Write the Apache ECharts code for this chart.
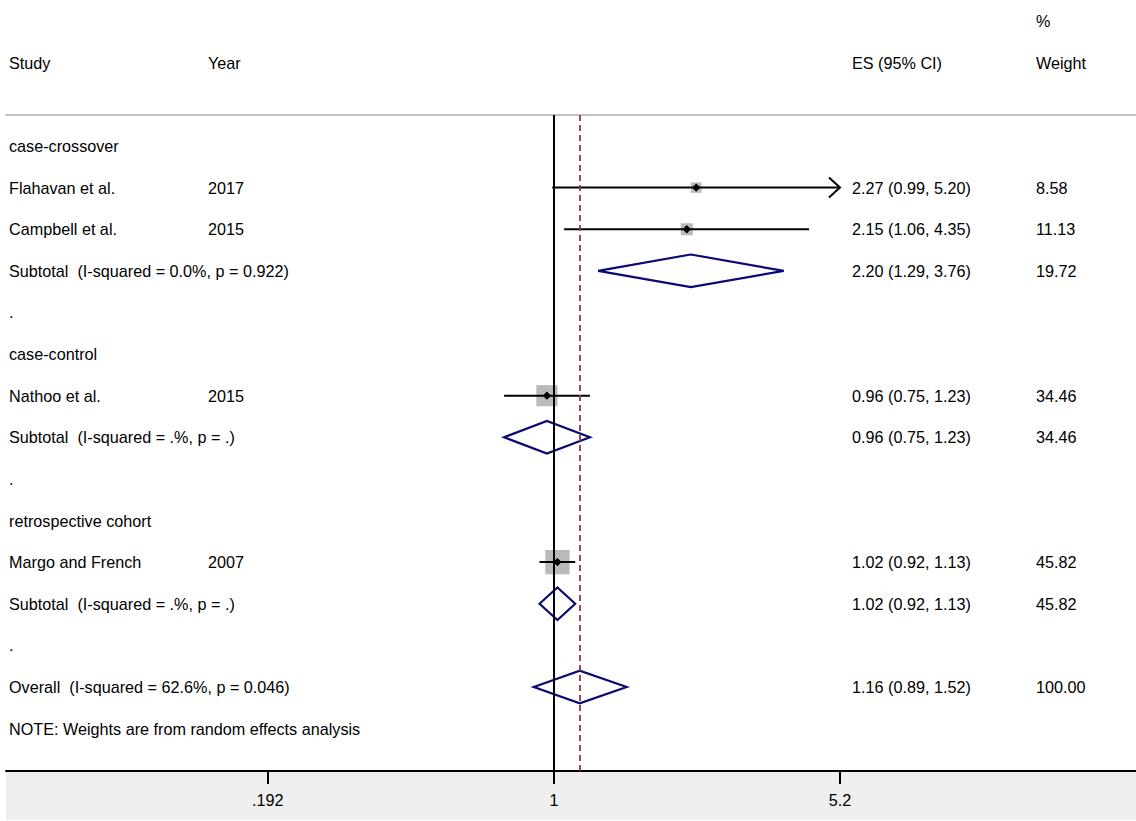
<!DOCTYPE html>
<html>
<head>
<meta charset="utf-8">
<script src="https://cdn.jsdelivr.net/npm/echarts@6/dist/echarts.min.js"></script>
<style>
html, body { margin: 0; padding: 0; background: #ffffff; }
#chart { width: 1136px; height: 821px; }
</style>
</head>
<body>
<div id="chart"></div>
<script>
// ---------------- data ----------------
const headerTop = ['', '', '', '%'];
const headerCols = ['Study', 'Year', 'ES (95% CI)', 'Weight'];
const rowLabels = [
  'case-crossover',
  'Flahavan et al.',
  'Campbell et al.',
  'Subtotal  (I-squared = 0.0%, p = 0.922)',
  '.',
  'case-control',
  'Nathoo et al.',
  'Subtotal  (I-squared = .%, p = .)',
  '.',
  'retrospective cohort',
  'Margo and French',
  'Subtotal  (I-squared = .%, p = .)',
  '.',
  'Overall  (I-squared = 62.6%, p = 0.046)',
  'NOTE: Weights are from random effects analysis'
];
const rowYears = ['', '2017', '2015', '', '', '', '2015', '', '', '', '2007', '', '', '', ''];

const studyRows = [1, 2, 6, 10];
const studyES = [2.27, 2.15, 0.96, 1.02];
const studyLo = [0.99, 1.06, 0.75, 0.92];
const studyHi = [5.20, 4.35, 1.23, 1.13];
const studyWeight = [8.58, 11.13, 34.46, 45.82];

const pooledRows = [3, 7, 11, 13];
const pooledES = [2.20, 0.96, 1.02, 1.16];
const pooledLo = [1.29, 0.75, 0.92, 0.89];
const pooledHi = [3.76, 1.23, 1.13, 1.52];
const pooledWeight = [19.72, 34.46, 45.82, 100.00];

const nullValue = 1;
const overallES = 1.16;
const tickValues = [0.192, 1, 5.2];
const tickLabels = ['.192', '1', '5.2'];

// ---------------- layout / style ----------------
const X_MIN = 0.04246, X_MAX = 28.65;
const Y_MIN = -0.745, Y_MAX = 15.02;
const COL_X = [9, 208, 852, 1036];
const FONT_FAMILY = '"Liberation Sans", Arial, Helvetica, sans-serif';
const FONT = '16.2px ' + FONT_FAMILY;
const NAVY = '#0a0a70';
const MAROON = '#993344';
const SQUARE_SCALE = 3.6;
const DIAMOND_HALF = 16.3;

// ---------------- build rows ----------------
const esCol = rowLabels.map(() => '');
const wCol = rowLabels.map(() => '');
const fmt = (es, lo, hi) => es.toFixed(2) + ' (' + lo.toFixed(2) + ', ' + hi.toFixed(2) + ')';
studyRows.forEach((r, i) => { esCol[r] = fmt(studyES[i], studyLo[i], studyHi[i]); wCol[r] = studyWeight[i].toFixed(2); });
pooledRows.forEach((r, i) => { esCol[r] = fmt(pooledES[i], pooledLo[i], pooledHi[i]); wCol[r] = pooledWeight[i].toFixed(2); });

const tableRows = [{ row: -3, cols: headerTop }, { row: -2, cols: headerCols }];
rowLabels.forEach((lab, i) => tableRows.push({ row: i, cols: [lab, rowYears[i], esCol[i], wCol[i]] }));

const studyData = studyRows.map((r, i) => [studyES[i], r, studyLo[i], studyHi[i], studyWeight[i]]);
const pooledData = pooledRows.map((r, i) => [pooledES[i], r, pooledLo[i], pooledHi[i], pooledWeight[i]]);
const tableData = tableRows.map(t => [nullValue, t.row]);

function renderTable(params, api) {
  const r = tableRows[params.dataIndex];
  const y = api.coord([nullValue, r.row])[1];
  return {
    type: 'group',
    children: r.cols.map((t, k) => ({
      type: 'text',
      x: COL_X[k],
      y: y,
      style: { text: t, fill: '#000000', font: FONT, align: 'left', verticalAlign: 'middle' }
    }))
  };
}

function renderStudy(params, api) {
  const es = api.value(0), row = api.value(1), lo = api.value(2), hi = api.value(3), w = api.value(4);
  const c = api.coord([es, row]);
  const l = api.coord([lo, row]);
  const h = api.coord([hi, row]);
  const s = SQUARE_SCALE * Math.sqrt(w);
  const y = c[1];
  const children = [
    { type: 'rect', shape: { x: c[0] - s / 2, y: y - s / 2, width: s, height: s }, style: { fill: '#bababa' } },
    { type: 'line', shape: { x1: l[0], y1: y, x2: h[0], y2: y }, style: { stroke: '#000000', lineWidth: 2 } },
    { type: 'polygon', shape: { points: [[c[0] - 4.2, y], [c[0], y - 4.2], [c[0] + 4.2, y], [c[0], y + 4.2]] }, style: { fill: '#000000' } }
  ];
  if (hi >= tickValues[tickValues.length - 1]) {
    children.push({ type: 'polyline', shape: { points: [[h[0] - 11, y - 10], [h[0], y], [h[0] - 11, y + 10]] },
      style: { stroke: '#000000', lineWidth: 2, fill: null } });
  }
  return { type: 'group', children: children };
}

function renderPooled(params, api) {
  const es = api.value(0), row = api.value(1), lo = api.value(2), hi = api.value(3);
  const c = api.coord([es, row]);
  const l = api.coord([lo, row]);
  const h = api.coord([hi, row]);
  const y = c[1];
  return {
    type: 'polygon',
    shape: { points: [[l[0], y], [c[0], y - DIAMOND_HALF], [h[0], y], [c[0], y + DIAMOND_HALF]] },
    style: { fill: null, stroke: NAVY, lineWidth: 2.2, lineJoin: 'miter' }
  };
}

function tickLabel(v) {
  let best = 0;
  tickValues.forEach((t, i) => { if (Math.abs(Math.log(t) - Math.log(v)) < Math.abs(Math.log(tickValues[best]) - Math.log(v))) best = i; });
  return tickLabels[best];
}

const chart = echarts.init(document.getElementById('chart'), null, { renderer: 'svg' });
chart.setOption({
  animation: false,
  backgroundColor: '#ffffff',
  textStyle: { fontFamily: FONT_FAMILY },
  graphic: {
    elements: [
      { type: 'rect', left: 6, top: 771, z: -100, shape: { width: 1130, height: 49 }, style: { fill: '#efefef' } }
    ]
  },
  grid: { left: 6, right: 0, top: 115, bottom: 50, containLabel: false, outerBoundsMode: 'none' },
  xAxis: [
    {
      type: 'log', logBase: 5.2, min: X_MIN, max: X_MAX, position: 'bottom',
      axisLine: { show: true, onZero: false, lineStyle: { color: '#000000', width: 2 } },
      axisTick: { show: true, inside: false, length: 13, customValues: tickValues, lineStyle: { color: '#000000', width: 2 } },
      axisLabel: { show: true, customValues: tickValues, margin: 21, color: '#000000', fontSize: 16.2,
        fontFamily: FONT_FAMILY, formatter: tickLabel },
      splitLine: { show: false }, minorTick: { show: false }
    },
    {
      type: 'log', logBase: 5.2, min: X_MIN, max: X_MAX, position: 'top',
      axisLine: { show: true, onZero: false, lineStyle: { color: '#c4c4c4', width: 2 } },
      axisTick: { show: false }, axisLabel: { show: false }, splitLine: { show: false }
    }
  ],
  yAxis: {
    type: 'value', inverse: true, min: Y_MIN, max: Y_MAX, show: false,
    splitLine: { show: false }
  },
  series: [
    {
      type: 'line', data: [], z: 1, silent: true,
      markLine: {
        silent: true, symbol: ['none', 'none'], label: { show: false },
        data: [
          { xAxis: nullValue, lineStyle: { color: '#000000', width: 2, type: 'solid' } },
          { xAxis: overallES, lineStyle: { color: MAROON, width: 1.8, type: [6, 4] } }
        ]
      }
    },
    { type: 'custom', z: 3, clip: false, renderItem: renderStudy, data: studyData, silent: true },
    { type: 'custom', z: 3, clip: false, renderItem: renderPooled, data: pooledData, silent: true },
    { type: 'custom', z: 4, clip: false, renderItem: renderTable, data: tableData, silent: true }
  ]
});
</script>
</body>
</html>
